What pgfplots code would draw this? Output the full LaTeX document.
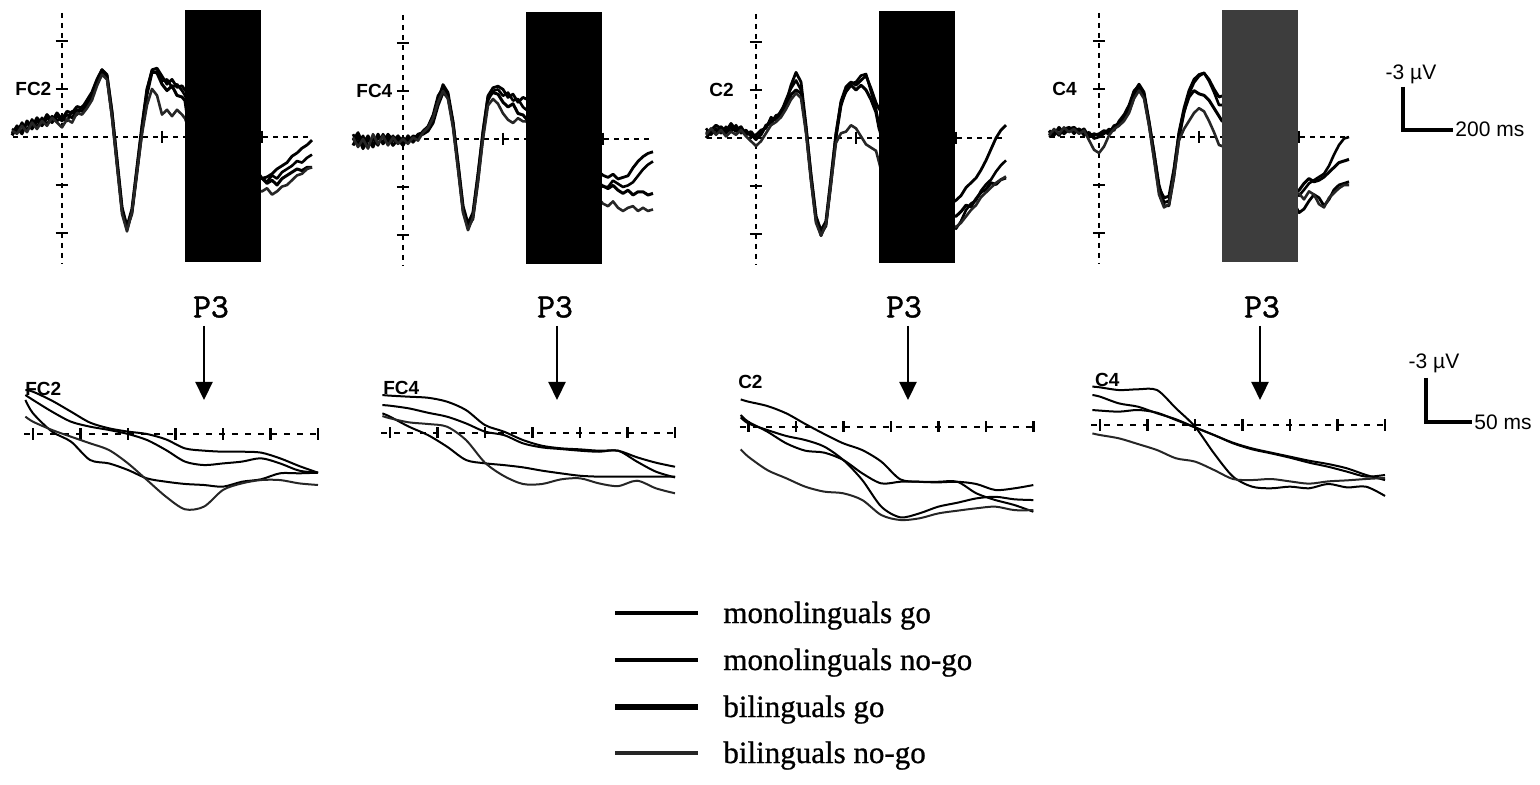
\documentclass[border=0pt]{standalone}
\usepackage{fontspec}
\setmainfont{Liberation Serif}
\setsansfont{Liberation Sans}
\newfontfamily\keyfont[FakeBold=0.8]{Liberation Serif}
\newfontfamily\peakfont[FakeBold=1.2]{lmmono10-regular.otf}
\usepackage{pgfplots}
\pgfplotsset{compat=1.18}
\usepackage{pgfplotstable}
\usetikzlibrary{arrows.meta}

% Grand-average ERPs (microvolts, negative up), one table per electrode.
% Columns: a = monolinguals go, b = monolinguals no-go,
%          c = bilinguals go,   d = bilinguals no-go
\pgfplotstableread{
t a b c d
-200 -0.2 -0.5 -0.1 -0.4
-180 -0.7 -0.3 -0.6 -0.2
-160 -0.3 -0.9 -0.2 -0.7
-140 -0.9 -0.4 -1.0 -0.3
-120 -0.5 -1.1 -0.6 -0.9
-100 -1.0 -0.6 -1.2 -0.5
-80 -0.7 -1.2 -0.8 -1.0
-60 -1.2 -0.8 -1.4 -0.7
-40 -0.9 -1.3 -1.0 -1.2
-20 -1.3 -1.0 -1.5 -0.9
0 -1.0 -1.2 -1.1 -0.6
20 -1.4 -1.0 -1.6 -1.1
40 -1.2 -1.6 -1.5 -0.9
60 -1.7 -1.4 -1.9 -1.5
80 -1.6 -1.9 -1.8 -1.4
100 -2.0 -2.1 -2.3 -1.8
120 -2.6 -2.5 -2.8 -2.3
140 -3.5 -3.4 -3.6 -3.2
160 -4.2 -4.0 -4.2 -3.9
180 -3.9 -3.7 -3.8 -3.6
200 -1.6 -1.3 -1.5 -1.2
220 1.5 1.7 1.4 1.8
240 4.5 4.6 4.4 4.8
260 5.8 5.7 5.6 5.9
280 4.6 4.8 4.5 4.7
300 2.0 2.3 1.9 2.2
320 -0.6 -0.3 -0.7 -0.2
340 -2.9 -2.6 -3.0 -2.0
360 -4.2 -4.0 -4.1 -3.0
380 -4.3 -4.1 -4.0 -2.6
400 -3.8 -3.5 -3.3 -1.4
420 -3.3 -3.6 -2.9 -1.7
440 -3.6 -3.1 -3.2 -1.3
460 -3.1 -3.3 -2.6 -1.7
480 -3.2 -2.9 -2.5 -1.4
492 -2.93 -2.60 -2.27 -1.16
500 -2.82 -2.27 -1.38 -0.82
520 -2.22 -1.49 -0.16 -0.27
540 -1.49 -0.82 0.51 0.18
560 -0.76 -0.49 1.73 0.62
580 -0.38 -0.27 1.96 1.07
600 -0.16 0.00 2.40 1.96
620 0.00 0.40 2.96 3.07
640 0.36 1.07 3.18 4.18
660 0.96 1.84 3.33 5.02
680 1.11 2.07 3.40 4.84
700 1.18 1.96 3.51 3.73
720 1.18 1.84 3.18 3.29
740 1.24 1.62 3.02 3.07
760 1.62 1.96 2.62 3.07
780 2.13 2.44 2.62 3.29
800 2.58 2.58 2.58 3.40
820 2.5 2.8 2.9 3.2
840 2.3 2.4 2.7 3.6
860 2.0 2.6 3.0 3.4
880 1.8 2.2 2.6 3.1
900 1.6 2.0 2.4 3.0
920 1.2 1.8 2.2 2.7
940 1.0 1.5 2.0 2.4
960 0.7 1.6 2.1 2.3
980 0.5 1.3 1.9 2.0
1000 0.2 1.1 1.9 1.9
}\fctwo

\pgfplotstableread{
t a b c d
-200 0.1 -0.3 0.4 -0.1
-180 -0.4 0.3 -0.2 0.5
-160 0.3 -0.2 0.6 0.0
-140 -0.2 0.5 0.0 0.6
-120 0.4 0.0 0.5 -0.3
-100 -0.1 0.4 -0.3 0.3
-80 0.2 -0.3 0.3 -0.2
-60 -0.3 0.2 -0.1 0.4
-40 0.1 -0.2 0.4 -0.1
-20 -0.2 0.3 0.0 0.3
0 0.2 -0.1 0.4 0.0
20 -0.1 0.2 -0.2 0.3
40 0.1 -0.2 0.2 -0.1
60 -0.3 -0.1 -0.2 0.1
80 -0.4 -0.5 -0.3 -0.4
100 -0.6 -0.8 -0.5 -0.7
120 -1.2 -1.5 -1.0 -1.3
140 -2.4 -2.7 -2.1 -2.3
160 -3.4 -3.2 -2.9 -3.0
180 -2.9 -2.7 -2.6 -2.5
200 -1.1 -0.9 -1.0 -0.7
220 1.6 1.8 1.5 1.9
240 4.3 4.5 4.2 4.6
260 5.6 5.5 5.3 5.7
280 4.7 5.0 4.6 4.9
300 2.3 2.7 2.2 2.6
320 -0.5 -0.2 -0.4 0.0
340 -2.7 -2.4 -2.6 -2.1
360 -3.2 -3.0 -2.9 -2.5
380 -3.3 -3.1 -2.8 -2.2
400 -3.1 -2.7 -2.3 -1.6
420 -2.6 -2.9 -2.0 -1.2
440 -2.8 -2.4 -2.2 -1.0
460 -2.3 -2.5 -1.6 -1.3
480 -2.6 -2.0 -1.5 -1.1
492 -2.51 -1.84 -1.29 -1.11
500 -2.47 -1.80 -1.07 -0.96
520 -2.40 -1.62 -0.40 -0.69
540 -2.33 -1.33 0.16 -0.58
560 -2.07 -1.07 0.93 -0.40
580 -1.51 -0.62 1.82 0.49
600 -0.51 -0.07 2.04 2.00
620 -0.07 0.16 2.16 2.89
640 0.49 0.71 2.31 3.42
660 0.87 0.98 2.53 3.42
680 1.04 1.09 2.71 3.11
700 1.11 1.20 2.87 3.04
720 1.20 1.27 2.93 3.38
740 1.20 1.20 2.93 3.56
760 1.64 1.93 2.93 3.20
780 2.00 2.60 2.93 3.71
800 2.27 2.98 2.93 4.04
820 2.4 3.0 3.1 4.2
840 2.2 2.6 2.9 3.9
860 2.5 2.8 3.2 4.3
880 2.4 3.0 3.4 4.5
900 2.3 2.9 3.2 4.3
920 1.8 2.7 3.5 4.2
940 1.4 2.3 3.3 4.5
960 1.1 1.9 3.3 4.3
980 0.9 1.6 3.5 4.5
1000 0.8 1.4 3.4 4.4
}\fcfour

\pgfplotstableread{
t a b c d
-200 -0.3 -0.6 0.0 -0.2
-180 -0.5 -0.2 -0.4 -0.6
-160 -0.8 -0.6 -0.3 -0.2
-140 -0.6 -0.3 -0.7 -0.5
-120 -0.3 -0.7 -0.4 -0.1
-100 -0.7 -0.4 -0.9 -0.4
-80 -0.4 -0.8 -0.5 -0.2
-60 -0.6 -0.3 -0.7 -0.5
-40 -0.3 -0.5 -0.2 -0.1
-20 -0.2 -0.1 -0.4 0.2
0 0.1 -0.2 0.0 0.5
20 -0.3 -0.5 -0.2 0.2
40 -0.7 -0.6 -0.8 -0.3
60 -1.1 -1.3 -0.9 -0.8
80 -1.2 -1.1 -1.4 -1.0
100 -1.7 -1.6 -1.5 -1.3
120 -2.2 -2.4 -2.0 -1.8
140 -3.3 -3.1 -2.7 -2.4
160 -4.1 -3.6 -3.0 -2.8
180 -3.5 -3.0 -2.8 -2.5
200 -0.8 -0.5 -0.6 -0.3
220 2.4 2.6 2.3 2.7
240 5.0 5.2 4.9 5.3
260 6.1 6.0 5.8 6.1
280 5.3 5.5 5.2 5.4
300 2.6 2.9 2.5 2.8
320 -0.3 0.0 -0.2 0.3
340 -2.3 -2.0 -2.2 -0.3
360 -3.2 -3.0 -2.9 -0.4
380 -3.5 -3.4 -3.3 -0.8
400 -3.3 -3.5 -3.0 -0.6
420 -3.6 -3.9 -3.3 -0.1
440 -3.9 -4.0 -3.0 0.4
460 -3.1 -2.9 -2.4 0.6
480 -2.2 -1.8 -1.6 0.8
492 -1.82 -0.78 -0.62 1.51
500 -1.67 -0.33 -0.22 2.00
520 -1.38 0.33 0.22 2.89
540 -0.89 1.11 0.62 3.44
560 -0.18 1.60 0.89 4.00
580 0.49 1.73 1.33 4.33
600 1.11 2.22 2.22 4.44
620 1.56 3.11 3.56 4.89
640 2.33 3.78 5.33 5.89
660 3.51 3.67 6.04 6.22
680 3.67 3.67 5.78 6.11
700 3.71 3.67 5.33 5.78
720 3.67 3.67 5.07 5.60
740 3.82 4.44 4.78 5.44
760 4.22 4.89 4.67 5.33
780 4.11 5.22 4.84 5.56
800 3.89 5.67 4.89 5.56
820 3.6 5.2 4.6 5.3
840 3.1 4.5 4.2 4.9
860 2.8 4.1 4.3 4.5
880 2.5 3.9 3.8 4.2
900 2.0 3.3 3.4 3.7
920 1.4 2.9 3.2 3.4
940 0.7 2.6 2.8 3.1
960 0.0 2.1 2.9 2.8
980 -0.5 1.7 2.6 2.6
1000 -0.8 1.4 2.5 2.4
}\ctwo

\pgfplotstableread{
t a b c d
-200 -0.2 0.0 -0.4 -0.1
-180 -0.4 -0.2 -0.1 -0.5
-160 -0.1 -0.5 -0.6 -0.2
-140 -0.5 -0.3 -0.2 -0.6
-120 -0.6 -0.6 -0.5 -0.3
-100 -0.4 -0.2 -0.6 -0.5
-80 -0.5 -0.5 -0.3 -0.2
-60 -0.3 -0.1 -0.5 -0.4
-40 -0.2 -0.3 0.0 0.2
-20 -0.1 0.1 -0.2 0.8
0 -0.2 0.0 -0.1 1.0
20 -0.4 -0.2 -0.3 0.6
40 -0.3 -0.5 -0.2 -0.1
60 -0.6 -0.4 -0.7 -0.5
80 -0.9 -1.0 -0.8 -0.7
100 -1.2 -1.4 -1.1 -1.0
120 -1.8 -2.0 -1.6 -1.5
140 -2.8 -2.9 -2.5 -2.4
160 -3.3 -3.2 -3.0 -2.9
180 -2.8 -2.7 -2.6 -2.4
200 -1.0 -0.8 -0.9 -0.7
220 1.0 1.3 1.0 1.4
240 3.0 3.4 3.2 3.6
260 4.1 4.3 3.8 4.4
280 4.0 4.3 3.7 4.2
300 2.1 2.5 2.0 2.4
320 -0.3 0.1 -0.2 0.2
340 -1.8 -1.5 -1.6 -0.5
360 -2.9 -2.7 -2.5 -1.0
380 -3.6 -3.4 -2.9 -1.5
400 -3.9 -3.8 -2.7 -1.8
420 -4.0 -4.0 -2.6 -1.6
440 -3.6 -3.5 -2.3 -1.0
460 -3.0 -2.8 -1.8 -0.3
480 -2.5 -2.0 -1.3 0.5
492 -2.56 -2.00 -1.00 0.56
500 -2.51 -1.89 -0.96 0.67
520 -2.33 -1.44 -0.89 0.89
540 -2.38 -1.22 -1.00 1.27
560 -2.33 -0.78 -0.82 1.67
580 -1.11 -0.38 -0.33 2.22
600 0.11 0.16 0.16 2.44
620 1.89 0.67 0.67 3.00
640 3.44 1.18 1.22 3.60
660 4.11 1.56 1.62 3.67
680 4.22 1.84 1.89 3.60
700 4.11 2.11 2.18 3.76
720 4.22 2.38 2.51 3.91
740 3.93 2.60 2.78 3.76
760 4.16 2.89 3.11 3.69
780 4.11 3.33 3.44 3.60
800 4.73 3.67 3.33 3.53
820 4.5 3.3 2.9 3.9
840 4.0 2.9 2.6 3.4
860 3.6 2.7 2.8 3.6
880 3.8 2.5 2.7 4.2
900 4.3 2.3 2.5 4.4
920 3.9 1.8 2.2 3.8
940 3.3 1.1 1.9 3.5
960 3.0 0.5 1.6 3.2
980 2.9 0.1 1.5 3.0
1000 2.8 0.0 1.4 3.0
}\cfour

\pgfplotsset{
  erp/.style={hide axis, clip=false, y dir=reverse, anchor=south west},
  erp top/.style={erp, x=0.125pt, y=8pt, xmin=-200, xmax=1000, ymin=-8, ymax=8.2},
  erp bottom/.style={erp, x=0.475pt, y=7.5pt, xmin=490, xmax=800, ymin=-4, ymax=7,
    restrict x to domain=490:800},
  mg/.style={black, line width=1.4pt, no markers, line join=round},
  mn/.style={black, line width=1.3pt, no markers, line join=round},
  bg/.style={black, line width=1.5pt, no markers, line join=round},
  bn/.style={black!85, line width=1.3pt, no markers, line join=round},
}
\tikzset{
  zeroline/.style={line width=1.3pt, dash pattern=on 2.5pt off 2.5pt},
  zeroline b/.style={line width=1.1pt, dash pattern=on 3pt off 3.5pt},
  tk/.style={line width=1.2pt},
  elab/.style={font=\sffamily\bfseries\fontsize{9.5}{11}\selectfont, inner sep=0pt},
}

% full epoch: #1,#2 origin on the page (px), #3 electrode, #4 table, #5 fill of the masked window
\newcommand{\toppanel}[5]{%
\begin{axis}[erp top, at={({(#1-50)*0.5pt},{-(#2+131.2)*0.5pt})}]
  \draw[zeroline] (axis cs:0,-7.75) -- (axis cs:0,7.9);
  \draw[zeroline] (axis cs:-195,0) -- (axis cs:990,0);
  \draw[tk] (axis cs:-25,-6) -- (axis cs:25,-6);
  \draw[tk] (axis cs:-25,-3) -- (axis cs:25,-3);
  \draw[tk] (axis cs:-25,3) -- (axis cs:25,3);
  \draw[tk] (axis cs:-25,6) -- (axis cs:25,6);
  \draw[tk] (axis cs:400,-0.4) -- (axis cs:400,0.4);
  \draw[tk] (axis cs:800,-0.4) -- (axis cs:800,0.4);
  \addplot[mg] table[x=t, y=a] {#4};
  \addplot[mn] table[x=t, y=b] {#4};
  \addplot[bg] table[x=t, y=c] {#4};
  \addplot[bn] table[x=t, y=d] {#4};
  \fill[#5] (axis cs:490,-7.95) rectangle (axis cs:795,7.8);
  \node[elab, anchor=west] at (axis cs:-188,-3) {#3};
\end{axis}}

% 490-800 ms window: #1 page x of 500 ms, #2 page y of 0 uV (px), #3 electrode, #4 table, #5 label time
\newcommand{\botpanel}[5]{%
\begin{axis}[erp bottom, at={({(#1-9.5)*0.5pt},{-(#2+105)*0.5pt})}]
  \draw[zeroline b] (axis cs:491,0) -- (axis cs:800,0);
  \draw[tk] (axis cs:500,-0.37) -- (axis cs:500,0.37);
  \draw[tk] (axis cs:550,-0.37) -- (axis cs:550,0.37);
  \draw[tk] (axis cs:600,-0.37) -- (axis cs:600,0.37);
  \draw[tk] (axis cs:650,-0.37) -- (axis cs:650,0.37);
  \draw[tk] (axis cs:700,-0.37) -- (axis cs:700,0.37);
  \draw[tk] (axis cs:750,-0.37) -- (axis cs:750,0.37);
  \draw[tk] (axis cs:800,-0.37) -- (axis cs:800,0.37);
  \addplot[mg, line width=1pt, smooth] table[x=t, y=a] {#4};
  \addplot[mn, line width=1pt, smooth] table[x=t, y=b] {#4};
  \addplot[bg, line width=1pt, smooth] table[x=t, y=c] {#4};
  \addplot[bn, line width=1pt, smooth] table[x=t, y=d] {#4};
  \node[elab, anchor=west] at (axis cs:#5,-3) {#3};
\end{axis}}

\begin{document}
\begin{tikzpicture}[x=0.5pt, y=-0.5pt]
\path[use as bounding box] (0,0) rectangle (1540,785);

\toppanel{62}{137}{FC2}{\fctwo}{black}
\toppanel{403}{139}{FC4}{\fcfour}{black}
\toppanel{756}{138}{C2}{\ctwo}{black}
\toppanel{1099}{137}{C4}{\cfour}{black!76}

\botpanel{33}{434}{FC2}{\fctwo}{491.5}
\botpanel{390}{432.7}{FC4}{\fcfour}{492.5}
\botpanel{748.3}{426.7}{C2}{\ctwo}{489}
\botpanel{1100}{425}{C4}{\cfour}{494.5}

% P3 markers
\foreach \xa/\xt in {204/211, 557/555, 908/904, 1260/1262} {
  \node[font=\peakfont\fontsize{17}{17}\selectfont, inner sep=0pt] at (\xt,307) {P3};
  \draw[line width=1.1pt, -{Triangle[width=8.5pt, length=9pt]}] (\xa,326) -- (\xa,400);
}

% calibration bars
\draw[line width=1.8pt] (1403,87) -- (1403,130) -- (1453,130);
\node[font=\sffamily\fontsize{10.5}{12}\selectfont, inner sep=0pt] at (1411,74) {-3 µV};
\node[font=\sffamily\fontsize{10.5}{12}\selectfont, inner sep=0pt, anchor=west] at (1455,129) {200 ms};
\draw[line width=1.8pt] (1426,378) -- (1426,422) -- (1472,422);
\node[font=\sffamily\fontsize{10.5}{12}\selectfont, inner sep=0pt] at (1434,363) {-3 µV};
\node[font=\sffamily\fontsize{10.5}{12}\selectfont, inner sep=0pt, anchor=west] at (1474,422) {50 ms};

% key
\draw[line width=2.2pt] (615,613) -- (698,613);
\draw[line width=2.0pt] (615,660) -- (698,660);
\draw[line width=2.8pt] (615,707) -- (698,707);
\draw[line width=2.0pt, black!85] (615,753) -- (698,753);
\begin{scope}[every node/.style={anchor=base west, inner sep=0pt, font=\keyfont\fontsize{15.5}{17}\selectfont}]
  \node at (723,623) {monolinguals go};
  \node at (723,670) {monolinguals no-go};
  \node at (723,717) {bilinguals go};
  \node at (723,763) {bilinguals no-go};
\end{scope}
\end{tikzpicture}
\end{document}
